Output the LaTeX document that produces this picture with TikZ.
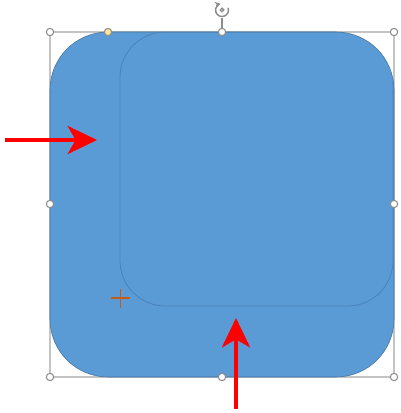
\documentclass[tikz,border=0pt]{standalone}
\usetikzlibrary{arrows.meta}

\definecolor{shapeblue}{HTML}{5B9BD5}
\definecolor{edgeblue}{HTML}{41719C}
\definecolor{inneredge}{HTML}{4A82B8}
\definecolor{handlegray}{HTML}{8C8C8C}
\definecolor{boxgray}{HTML}{C4C4C4}
\definecolor{plusorange}{HTML}{C55A11}
\definecolor{knobyellow}{HTML}{FFE699}

\tikzset{
  handle/.style={circle, draw=handlegray, fill=white, line width=0.8pt, inner sep=0pt, minimum size=5.5pt},
  knob/.style={handle, fill=knobyellow},
  redarrow/.style={red, line width=3pt, -{Stealth[length=22pt, width=21pt, inset=6pt]}}
}

\begin{document}
\begin{tikzpicture}[x=0.75pt,y=0.75pt,yscale=-1,xscale=1]
    \useasboundingbox (0,0) rectangle (400,413);

    % selection frame
    \draw [boxgray, line width=1pt]   (50,32) rectangle (394,377) ;
    % the shape and its ghost
    \draw [fill=shapeblue, draw=edgeblue, line width=0.4pt, rounded corners=43.5pt]   (50,32) rectangle (394,377) ;
    \begin{scope}
      \clip [rounded corners=43.5pt]   (50,32) rectangle (394,377) ;
      \draw [inneredge, line width=0.6pt, rounded corners=34pt]   (120,32) rectangle (393,306) ;
    \end{scope}

    % rotation grip
    \coordinate (rot) at (222,10);
    \coordinate (rot-stem) at (222,18);
    \draw [handlegray, line width=1.1pt, -{Stealth[length=4pt, width=5pt]}]   (rot) ++(-20:6.5) arc (-20:255:6.5) ;
    \draw [handlegray, line width=1pt]   (rot) circle (1.8) ;

    % handles
    \node [handle] (h-nw) at (50,32) {};
    \node [handle] (h-n) at (222,32) {};
    \node [handle] (h-ne) at (394,32) {};
    \node [handle] (h-w) at (50,204) {};
    \node [handle] (h-e) at (394,204) {};
    \node [handle] (h-sw) at (50,377) {};
    \node [handle] (h-s) at (222,377) {};
    \node [handle] (h-se) at (394,377) {};
    \node [knob] (h-adj) at (108,32) {};
    \draw [handlegray, line width=0.8pt]   (rot-stem) -- (h-n) ;

    % orange cross
    \draw [plusorange, line width=1.2pt]   (111,298) -- (130,298) (120.5,289) -- (120.5,308) ;

    % red arrows
    \coordinate (left-from) at (5,140);
    \coordinate (left-to) at (97,140);
    \coordinate (low-from) at (236,409);
    \coordinate (low-to) at (236,318);
    \draw [redarrow]   (left-from) -- (left-to) ;
    \draw [redarrow]   (low-from) -- (low-to) ;
  \end{tikzpicture}
\end{document}
